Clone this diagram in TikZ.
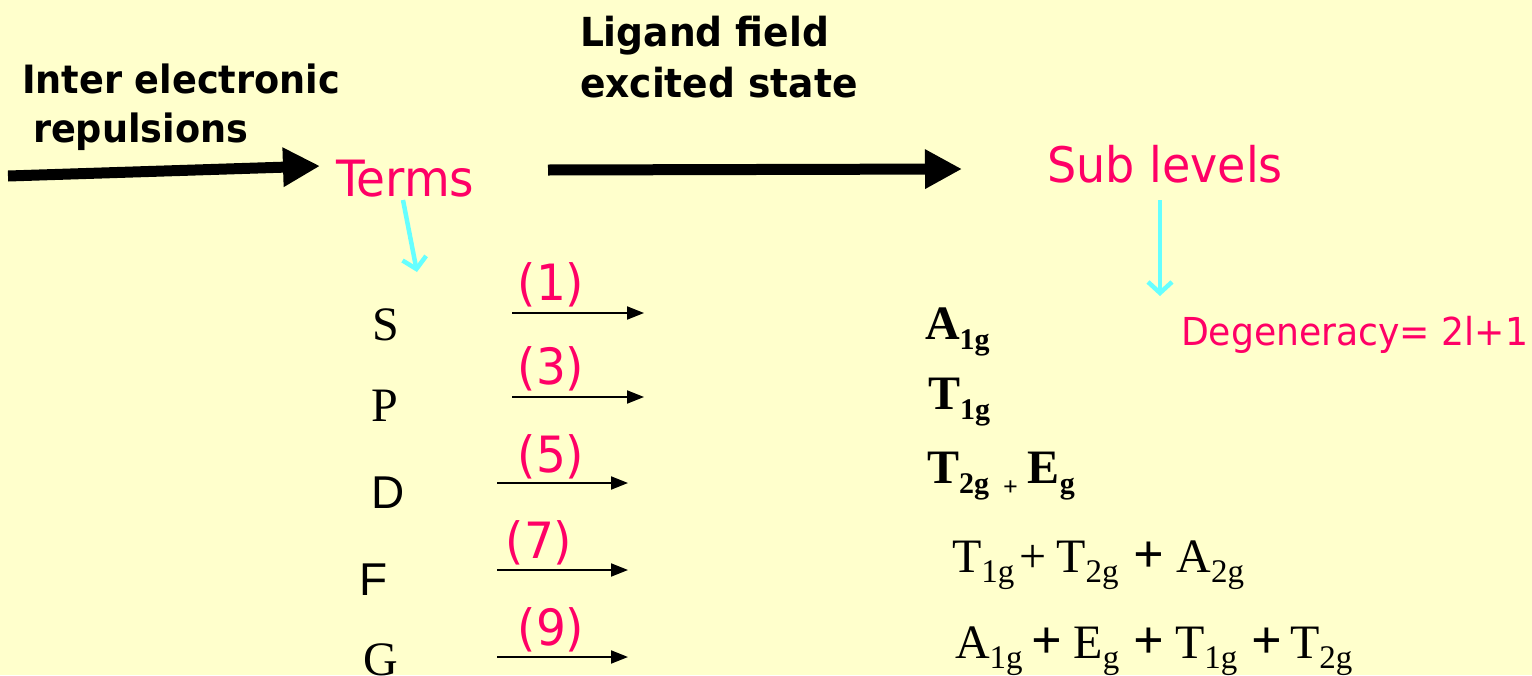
\documentclass[tikz,border=0pt]{standalone}
\usepackage{fontspec}
\setmainfont{Liberation Serif}
\newfontfamily\tah[FakeStretch=0.94]{DejaVu Sans}
\newfontfamily\tahb[FakeStretch=0.94]{DejaVu Sans Bold}
\newfontfamily\arl{Liberation Sans}
\usetikzlibrary{arrows.meta}
\definecolor{bgyellow}{HTML}{FFFFCC}
\definecolor{hotpink}{HTML}{FF0066}
\definecolor{lcyan}{HTML}{66FFFF}
\newcommand{\fs}[1]{\fontsize{#1}{#1}\selectfont}
\newcommand{\lsb}[2][30]{\raisebox{-10.5pt}{\fs{#1}#2}}
\newcommand{\bplus}{{\fs{54}\textbf{+}}}
\begin{document}
\begin{tikzpicture}[x=1pt,y=-1pt,
  every node/.style={inner sep=0pt,outer sep=0pt},
  boldlbl/.style={anchor=base west,font=\tahb\fs{40}},
  pinklbl/.style={anchor=base west,text=hotpink,font=\tah\fs{49}},
  numlbl/.style={anchor=center,text=hotpink,font=\tah\fs{50}},
  termlbl/.style={anchor=base west,font=\fs{48}},
  sublvl/.style={anchor=base west,font=\fs{48}},
  bigarrow/.style={line width=11pt,-{Triangle[length=37pt,width=37pt]}},
  smallarrow/.style={line width=2pt,-{Triangle[length=17pt,width=13pt]}},
  cyanarrow/.style={lcyan,line width=4.5pt,-{Straight Barb[length=11pt,width=24pt]}}]
\fill[bgyellow] (0,0) rectangle (1532,675);
\useasboundingbox (0,0) rectangle (1532,675);

% headings
\node[boldlbl,font=\tahb\fs{39}] (ie1) at (22,93) {Inter electronic};
\node[boldlbl,font=\tahb\fs{39}] (ie2) at (33,142) {repulsions};
\node[boldlbl] (lf1) at (580,46) {Ligand field};
\node[boldlbl] (lf2) at (580,97) {excited state};
\node[pinklbl,font=\tah\fs{50}] (terms) at (336,196) {Terms};
\node[pinklbl] (sub) at (1047,182) {Sub levels};

% big arrows
\coordinate (a1s) at (8,176);
\coordinate (a1e) at (320,166);
\draw[bigarrow] (a1s) -- (a1e);
\coordinate (a2s) at (548,170);
\coordinate (a2e) at (962,169);
\draw[bigarrow] (a2s) -- (a2e);

% cyan arrows
\coordinate (c1s) at (403,200);
\coordinate (c1e) at (417,272);
\draw[cyanarrow] (c1s) -- (c1e);
\coordinate (c2s) at (1160,200);
\coordinate (c2e) at (1160,296);
\draw[cyanarrow] (c2s) -- (c2e);

% terms
\node[termlbl] (S) at (372,340) {S};
\node[termlbl] (P) at (371,421) {P};
\node[anchor=base west,font=\arl\fs{46}] (D) at (371,508) {D};
\node[anchor=base west,font=\arl\fs{46}] (F) at (359,595) {F};
\node[termlbl] (G) at (363,675) {G};

% small arrows
\coordinate (s1s) at (512,313); \coordinate (s1e) at (644,313);
\coordinate (s3s) at (512,397); \coordinate (s3e) at (644,397);
\coordinate (s5s) at (497,483); \coordinate (s5e) at (628,483);
\coordinate (s7s) at (497,570); \coordinate (s7e) at (628,570);
\coordinate (s9s) at (497,657); \coordinate (s9e) at (628,657);
\draw[smallarrow] (s1s) -- (s1e);
\draw[smallarrow] (s3s) -- (s3e);
\draw[smallarrow] (s5s) -- (s5e);
\draw[smallarrow] (s7s) -- (s7e);
\draw[smallarrow] (s9s) -- (s9e);

\node[numlbl] (n1) at (551,285) {(1)};
\node[numlbl] (n3) at (551,369) {(3)};
\node[numlbl] (n5) at (551,457) {(5)};
\node[numlbl] (n7) at (539,543) {(7)};
\node[numlbl] (n9) at (551,630) {(9)};

% sub levels
\node[sublvl,font=\bfseries\fs{48}] (r1) at (925,339) {A\lsb{1g}};
\node[sublvl,font=\bfseries\fs{48}] (r2) at (928,409) {T\lsb{1g}};
\node[sublvl,font=\bfseries\fs{48}] (r3) at (927,483) {T\lsb{2g}\hspace{14pt}\raisebox{-12pt}{\fs{26}+}\hspace{10pt}E\lsb{g}};
\node[sublvl] (r4) at (952,572) {T\lsb[33]{1g}\hspace{5pt}+\hspace{10pt}T\lsb[33]{2g}\hspace{15pt}\bplus\hspace{12pt}A\lsb[33]{2g}};
\node[sublvl] (r5) at (955,658) {A\lsb[33]{1g}\hspace{9pt}\bplus\hspace{11pt}E\lsb[33]{g}\hspace{14pt}\bplus\hspace{11pt}T\lsb[33]{1g}\hspace{14pt}\bplus\hspace{8pt}T\lsb[33]{2g}};

\node[anchor=base west,text=hotpink,font=\tah\fs{38.5}] (deg) at (1181,345) {Degeneracy= 2l+1};
\end{tikzpicture}
\end{document}
